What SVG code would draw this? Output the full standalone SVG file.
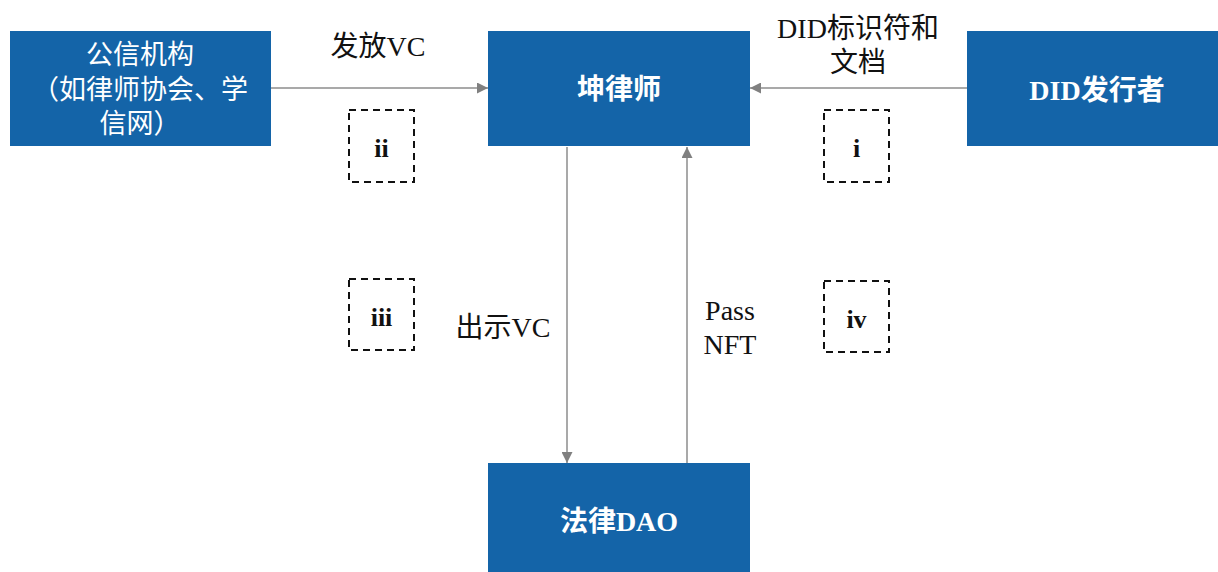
<svg xmlns="http://www.w3.org/2000/svg" width="1218" height="572" viewBox="0 0 1218 572">
<defs>
<style>
.node{fill:#1464a8;}
.nt{fill:#fff;font-family:"Liberation Serif","Noto Sans CJK SC",serif;font-size:28px;font-weight:bold;text-anchor:middle;}
.nts{fill:#fff;font-family:"Liberation Sans","Noto Sans CJK SC",sans-serif;font-size:27px;text-anchor:middle;}
.lbl{fill:#111;font-family:"Liberation Serif","Noto Sans CJK SC",serif;font-size:28px;text-anchor:middle;}
.edge{stroke:#8c8c8c;stroke-width:1.5;fill:none;}
.dash{fill:none;stroke:#111;stroke-width:2;stroke-dasharray:7,5;}
.rl{fill:#111;font-family:"Liberation Serif",serif;font-size:26px;font-weight:bold;text-anchor:middle;}
</style>
<marker id="ah" viewBox="0 0 10 10" refX="10" refY="5" markerWidth="11" markerHeight="11" markerUnits="userSpaceOnUse" orient="auto">
<path d="M0,0 L10,5 L0,10 z" fill="#808080"/>
</marker>
</defs>
<rect width="1218" height="572" fill="#fff"/>
<g id="connectors">
<line class="edge" x1="271" y1="88" x2="488" y2="88" marker-end="url(#ah)"/>
<line class="edge" x1="967" y1="88" x2="750" y2="88" marker-end="url(#ah)"/>
<line class="edge" x1="567" y1="147" x2="567" y2="463" marker-end="url(#ah)"/>
<line class="edge" x1="687" y1="463" x2="687" y2="147" marker-end="url(#ah)"/>
<text class="lbl" x="378" y="56">发放VC</text>
<text class="lbl" x="858" y="38">DID标识符和</text>
<text class="lbl" x="858" y="72">文档</text>
<text class="lbl" x="503" y="337">出示VC</text>
<text class="lbl" x="730" y="320">Pass</text>
<text class="lbl" x="730" y="354">NFT</text>
</g>
<g id="node-gongxin">
<rect class="node" x="10" y="31" width="261" height="115"/>
<text class="nts" x="140" y="64">公信机构</text>
<text class="nts" x="140" y="99">（如律师协会、学</text>
<text class="nts" x="140" y="133">信网）</text>
</g>
<g id="node-lawyer">
<rect class="node" x="488" y="31" width="262" height="115"/>
<text class="nt" x="619" y="99">坤律师</text>
</g>
<g id="node-did">
<rect class="node" x="967" y="31" width="251" height="115"/>
<text class="nt" x="1097" y="100">DID发行者</text>
</g>
<g id="node-dao">
<rect class="node" x="488" y="463" width="262" height="109"/>
<text class="nt" x="619" y="531">法律DAO</text>
</g>
<g id="marker-ii">
<rect class="dash" x="349" y="110" width="65" height="72"/>
<text class="rl" x="381.5" y="157">ii</text>
</g>
<g id="marker-i">
<rect class="dash" x="824" y="110" width="65" height="72"/>
<text class="rl" x="856.5" y="157">i</text>
</g>
<g id="marker-iii">
<rect class="dash" x="349" y="279" width="65" height="71"/>
<text class="rl" x="381.5" y="326">iii</text>
</g>
<g id="marker-iv">
<rect class="dash" x="824" y="281" width="65" height="71"/>
<text class="rl" x="856.5" y="328">iv</text>
</g>
</svg>
